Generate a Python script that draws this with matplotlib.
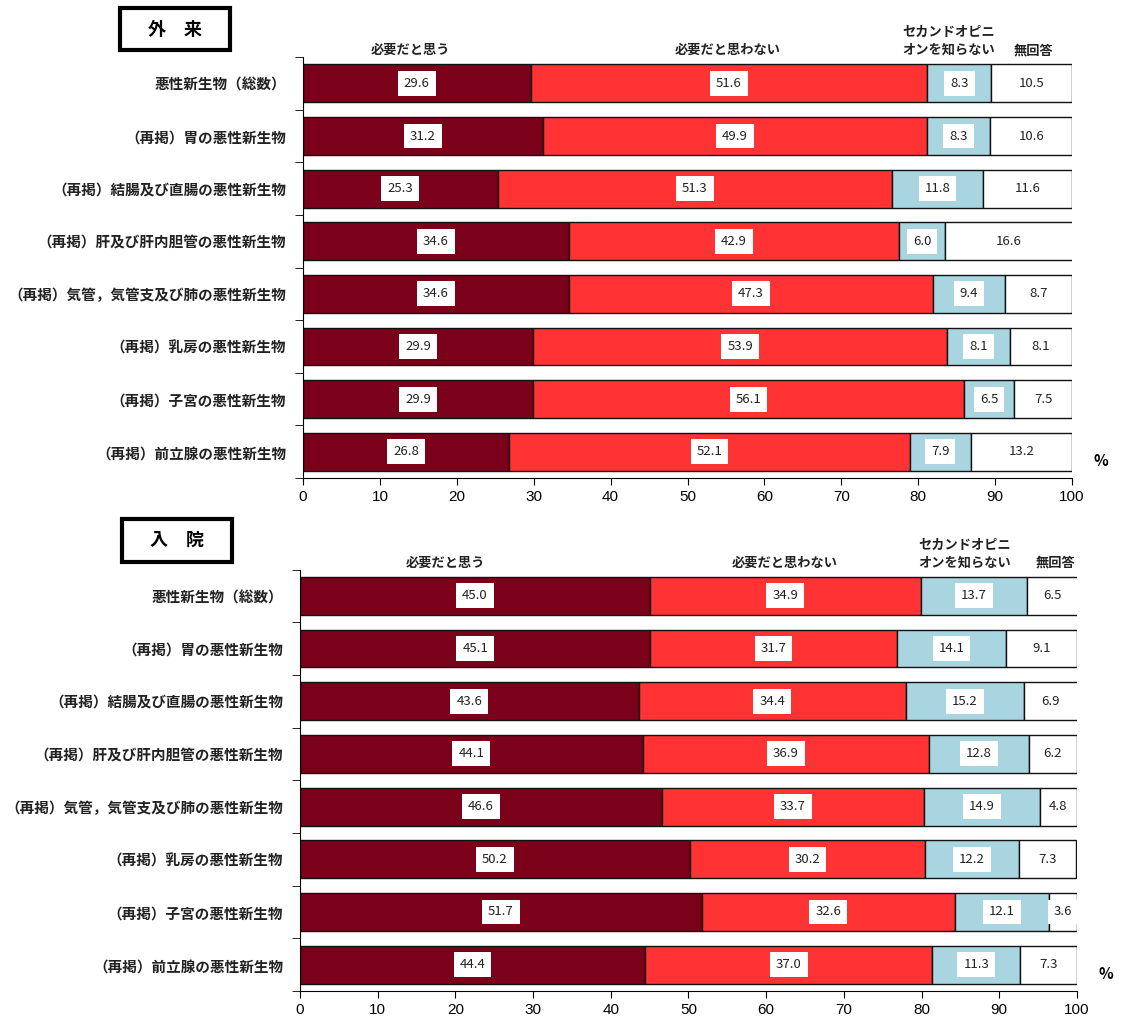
import matplotlib.pyplot as plt
from matplotlib.patches import Rectangle
import numpy as np

plt.rcParams['font.family'] = ['Noto Sans CJK JP', 'DejaVu Sans']

categories = ['悪性新生物（総数）', '（再掲）胃の悪性新生物', '（再掲）結腸及び直腸の悪性新生物',
              '（再掲）肝及び肝内胆管の悪性新生物', '（再掲）気管，気管支及び肺の悪性新生物',
              '（再掲）乳房の悪性新生物', '（再掲）子宮の悪性新生物', '（再掲）前立腺の悪性新生物']
series_names = ['必要だと思う', '必要だと思わない', 'セカンドオピニ\nオンを知らない', '無回答']

# 外来
out_yes = [29.6, 31.2, 25.3, 34.6, 34.6, 29.9, 29.9, 26.8]
out_no = [51.6, 49.9, 51.3, 42.9, 47.3, 53.9, 56.1, 52.1]
out_unknown = [8.3, 8.3, 11.8, 6.0, 9.4, 8.1, 6.5, 7.9]
out_na = [10.5, 10.6, 11.6, 16.6, 8.7, 8.1, 7.5, 13.2]

# 入院
in_yes = [45.0, 45.1, 43.6, 44.1, 46.6, 50.2, 51.7, 44.4]
in_no = [34.9, 31.7, 34.4, 36.9, 33.7, 30.2, 32.6, 37.0]
in_unknown = [13.7, 14.1, 15.2, 12.8, 14.9, 12.2, 12.1, 11.3]
in_na = [6.5, 9.1, 6.9, 6.2, 4.8, 7.3, 3.6, 7.3]

colors = ['#7b0019', '#ff3333', '#a8d5df', '#ffffff']

fig = plt.figure(figsize=(11.21, 10.23), dpi=100)


def draw_panel(ax, data, title, title_box, header_x, pct_pos):
    y = np.arange(len(categories))
    left = np.zeros(len(categories))
    for vals, c in zip(data, colors):
        vals = np.array(vals)
        ax.barh(y, vals, left=left, height=0.72, color=c, edgecolor='#111111', linewidth=1.0)
        for yi, l, v in zip(y, left, vals):
            ax.text(l + v / 2, yi, f'{v:.1f}', ha='center', va='center', fontsize=9.5,
                    color='#222222',
                    bbox=dict(boxstyle='square,pad=0.45', fc='white', ec='none'))
        left += vals

    ax.set_xlim(0, 100)
    ax.set_ylim(len(categories) - 0.5, -0.5)
    ax.set_xticks(np.arange(0, 101, 10))
    ax.tick_params(axis='x', labelsize=11, length=5, direction='out')
    for t in ax.get_xticklabels():
        t.set_family('Liberation Sans')
    ax.set_yticks(y)
    ax.set_yticklabels(categories, fontsize=10.5, fontweight='bold', color='#222222')
    ax.set_yticks(np.arange(-0.5, len(categories), 1), minor=True)
    ax.tick_params(axis='y', which='major', length=0, pad=12)
    ax.tick_params(axis='y', which='minor', length=6, direction='out')
    ax.spines['top'].set_visible(False)
    ax.spines['right'].set_visible(False)

    # series headers
    for name, hx in zip(series_names, header_x):
        ax.text(hx, -0.5, name, ha='center', va='bottom', fontsize=9.5, fontweight='bold',
                color='#222222', linespacing=1.35)

    ax.text(pct_pos[0], pct_pos[1], '%', transform=ax.transAxes, fontsize=11,
            fontweight='bold', ha='left', va='center')

    bx, by, bw, bh = title_box
    fig.patches.append(Rectangle((bx, by), bw, bh, transform=fig.transFigure,
                                 fc='white', ec='black', lw=3))
    fig.text(bx + bw / 2, by + bh / 2, title, fontsize=13, fontweight='bold',
             ha='center', va='center')


ax1 = fig.add_axes([0.2703, 0.5327, 0.6860, 0.4115])
draw_panel(ax1, [out_yes, out_no, out_unknown, out_na], '外　来', (0.107, 0.951, 0.098, 0.041),
           [14.0, 55.2, 84.0, 95.0], (1.028, 0.04))

ax2 = fig.add_axes([0.2676, 0.0313, 0.6931, 0.4120])
draw_panel(ax2, [in_yes, in_no, in_unknown, in_na], '入　院', (0.109, 0.451, 0.098, 0.042),
           [18.7, 62.4, 85.5, 97.2], (1.028, 0.04))

plt.savefig('out.png', dpi=100)
